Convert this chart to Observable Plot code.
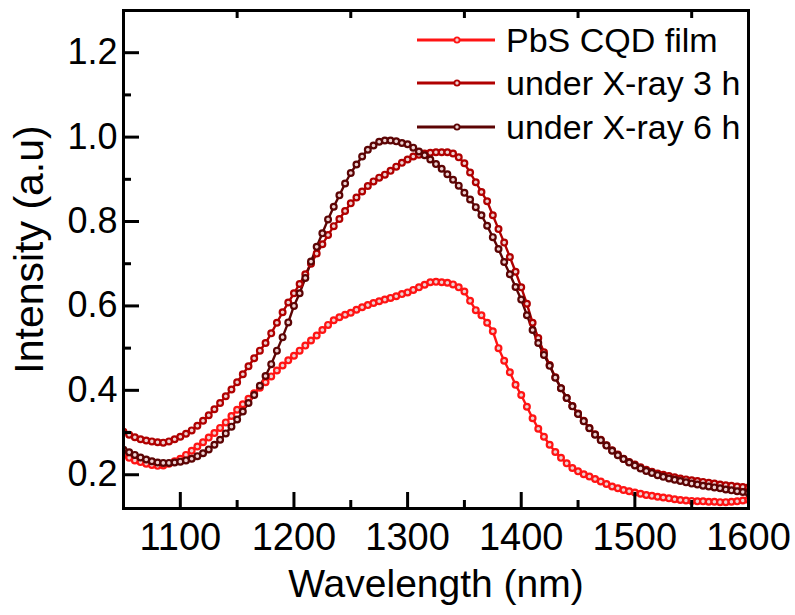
<!DOCTYPE html>
<html><head><meta charset="utf-8">
<script src="https://cdn.jsdelivr.net/npm/d3@7"></script>
<script src="https://cdn.jsdelivr.net/npm/@observablehq/plot@0.6"></script>
<style>
html,body{margin:0;padding:0;background:#fff;}
#chart svg{display:block;}
</style>
</head><body><div id="chart"></div>
<script>
// ---- data ----
const wavelength = [
1050,1055,1060,1065,1070,1075,1080,1085,1090,1095,
1100,1105,1110,1115,1120,1125,1130,1135,1140,1145,
1150,1155,1160,1165,1170,1175,1180,1185,1190,1195,
1200,1205,1210,1215,1220,1225,1230,1235,1240,1245,
1250,1255,1260,1265,1270,1275,1280,1285,1290,1295,
1300,1305,1310,1315,1320,1325,1330,1335,1340,1345,
1350,1355,1360,1365,1370,1375,1380,1385,1390,1395,
1400,1405,1410,1415,1420,1425,1430,1435,1440,1445,
1450,1455,1460,1465,1470,1475,1480,1485,1490,1495,
1500,1505,1510,1515,1520,1525,1530,1535,1540,1545,
1550,1555,1560,1565,1570,1575,1580,1585,1590,1595,
1600];

const pbsFilm = [
0.247,0.240,0.234,0.230,0.226,0.223,0.221,0.222,0.226,0.232,
0.238,0.247,0.257,0.267,0.277,0.288,0.299,0.311,0.324,0.339,
0.354,0.367,0.380,0.393,0.406,0.419,0.433,0.447,0.459,0.471,
0.482,0.494,0.506,0.518,0.530,0.543,0.555,0.566,0.573,0.579,
0.584,0.591,0.597,0.602,0.607,0.611,0.615,0.619,0.623,0.628,
0.632,0.638,0.644,0.650,0.656,0.657,0.656,0.655,0.651,0.644,
0.634,0.612,0.590,0.578,0.560,0.540,0.500,0.470,0.443,0.413,
0.389,0.361,0.334,0.309,0.290,0.271,0.254,0.240,0.227,0.216,
0.208,0.201,0.196,0.190,0.184,0.178,0.172,0.168,0.164,0.161,
0.158,0.155,0.152,0.150,0.148,0.146,0.144,0.142,0.140,0.139,
0.138,0.137,0.137,0.136,0.136,0.135,0.135,0.136,0.137,0.139,
0.141];

const xray3h = [
0.302,0.295,0.289,0.284,0.281,0.279,0.277,0.276,0.279,0.284,
0.290,0.297,0.305,0.316,0.328,0.341,0.355,0.370,0.386,0.402,
0.419,0.438,0.457,0.476,0.494,0.512,0.535,0.560,0.585,0.608,
0.630,0.652,0.675,0.700,0.724,0.746,0.768,0.789,0.806,0.825,
0.843,0.857,0.871,0.884,0.895,0.904,0.911,0.920,0.930,0.939,
0.947,0.954,0.958,0.961,0.963,0.964,0.964,0.964,0.961,0.952,
0.938,0.916,0.893,0.870,0.848,0.815,0.782,0.750,0.716,0.681,
0.644,0.605,0.560,0.524,0.490,0.460,0.431,0.405,0.382,0.363,
0.345,0.328,0.311,0.296,0.283,0.270,0.258,0.248,0.238,0.230,
0.224,0.218,0.212,0.207,0.203,0.200,0.197,0.194,0.191,0.189,
0.187,0.185,0.183,0.181,0.179,0.177,0.175,0.174,0.172,0.171,
0.170];

const xray6h = [
0.259,0.253,0.247,0.241,0.236,0.232,0.229,0.228,0.228,0.229,
0.231,0.234,0.238,0.244,0.251,0.260,0.271,0.283,0.298,0.314,
0.331,0.350,0.370,0.389,0.411,0.434,0.462,0.494,0.526,0.561,
0.600,0.630,0.666,0.705,0.740,0.772,0.805,0.835,0.862,0.890,
0.915,0.935,0.954,0.970,0.980,0.989,0.992,0.992,0.990,0.986,
0.983,0.975,0.966,0.957,0.947,0.936,0.925,0.912,0.899,0.885,
0.868,0.852,0.834,0.815,0.790,0.763,0.735,0.704,0.675,0.645,
0.615,0.578,0.543,0.512,0.484,0.458,0.430,0.405,0.382,0.362,
0.344,0.327,0.310,0.295,0.282,0.269,0.257,0.246,0.237,0.229,
0.222,0.215,0.209,0.204,0.199,0.195,0.191,0.188,0.185,0.182,
0.179,0.177,0.174,0.172,0.170,0.168,0.165,0.163,0.161,0.159,
0.157];

const seriesNames = ["PbS CQD film", "under X-ray 3 h", "under X-ray 6 h"];
const seriesColors = ["#ff1414", "#b00000", "#5c0404"];

const xMajorTicks = [1100, 1200, 1300, 1400, 1500, 1600];
const xMinorTicks = [1150, 1250, 1350, 1450, 1550];
const yMajorTicks = [0.2, 0.4, 0.6, 0.8, 1.0, 1.2];
const yMinorTicks = [0.3, 0.5, 0.7, 0.9, 1.1];
const xTitle = "Wavelength (nm)";
const yTitle = "Intensity (a.u)";

// ---- layout ----
const W = 795, H = 615;
const mL = 123, mR = 47, mT = 10, mB = 107;
const fw = W - mL - mR;
const fh = H - mT - mB;
const FONT = "'Liberation Sans', Arial, Helvetica, sans-serif";
const MARKER_FILL = "#ecd2d2";

const allSeries = [pbsFilm, xray3h, xray6h];
const rows = [];
seriesNames.forEach((s, i) => {
  wavelength.forEach((w, j) => rows.push({series: s, x: w, y: allSeries[i][j]}));
});

// legend drawn inside the frame (top right)
function legendMark(index, scales, values, dims) {
  const g = d3.create("svg:g").attr("font-family", FONT);
  const rowY = [40, 83, 127];
  const x1 = 417, x2 = 495, xm = 457, xt = 506;
  seriesNames.forEach((s, i) => {
    const c = seriesColors[i];
    g.append("line").attr("x1", x1).attr("x2", x2).attr("y1", rowY[i]).attr("y2", rowY[i])
      .attr("stroke", c).attr("stroke-width", 3);
    g.append("circle").attr("cx", xm).attr("cy", rowY[i]).attr("r", 2.6)
      .attr("fill", MARKER_FILL).attr("stroke", c).attr("stroke-width", 1.8);
    g.append("text").attr("x", xt).attr("y", rowY[i]).attr("dy", "0.35em")
      .attr("text-anchor", "start")
      .attr("font-size", 34).attr("fill", "#000").text(s);
  });
  return g.node();
}

const chart = Plot.plot({
  width: W, height: H,
  marginLeft: mL, marginRight: mR, marginTop: mT, marginBottom: mB,
  x: {domain: [1050, 1600]},
  y: {domain: [0.12, 1.3]},
  color: {domain: seriesNames, range: seriesColors},
  style: {fontFamily: FONT, color: "#000", background: "#fff", overflow: "visible"},
  marks: [
    Plot.line(rows, {x: "x", y: "y", z: "series", stroke: "series", strokeWidth: 2.4, clip: true}),
    Plot.dot(rows, {x: "x", y: "y", stroke: "series", fill: MARKER_FILL, r: 2.9, strokeWidth: 2.2, clip: true}),
    // inward ticks
    Plot.tickX(xMajorTicks, {x: d => d, insetTop: fh - 16, stroke: "#000", strokeWidth: 3}),
    Plot.tickX(xMinorTicks, {x: d => d, insetTop: fh - 8, stroke: "#000", strokeWidth: 3}),
    Plot.tickX(xMinorTicks, {x: d => d, insetBottom: fh - 8, stroke: "#000", strokeWidth: 3}),
    Plot.tickY(yMajorTicks, {y: d => d, insetRight: fw - 16, stroke: "#000", strokeWidth: 3}),
    Plot.tickY(yMinorTicks, {y: d => d, insetRight: fw - 8, stroke: "#000", strokeWidth: 3}),
    // tick labels
    Plot.axisX(xMajorTicks, {tickSize: 0, tickPadding: 15, fontSize: 38, label: null, tickFormat: d => String(d)}),
    Plot.axisY(yMajorTicks, {tickSize: 0, tickPadding: 6, fontSize: 36, label: null, tickFormat: d3.format(".1f")}),
    // titles
    Plot.text([xTitle], {frameAnchor: "bottom", textAnchor: "middle", lineAnchor: "middle", dy: 76, fontSize: 39, fill: "#000"}),
    Plot.text([yTitle], {frameAnchor: "left", textAnchor: "middle", lineAnchor: "middle", rotate: -90, dx: -94, dy: -10, fontSize: 41, fill: "#000"}),
    Plot.frame({stroke: "#000", strokeWidth: 3}),
    legendMark
  ]
});
document.getElementById("chart").appendChild(chart);
</script>
</body></html>
